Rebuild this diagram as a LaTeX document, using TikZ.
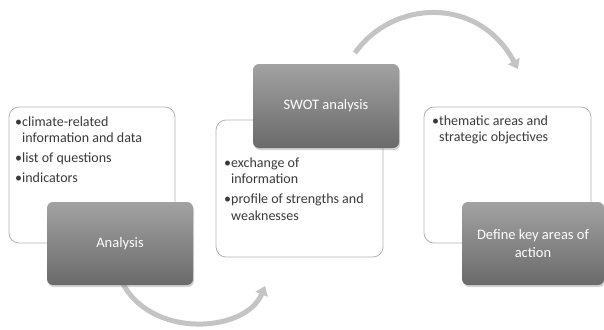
\documentclass[tikz,border=0pt]{standalone}
\usepackage{fontspec}
\setmainfont{Carlito}
\usetikzlibrary{shadows,arrows.meta,calc}
\definecolor{gtop}{HTML}{A2A2A2}
\definecolor{gbot}{HTML}{6A6A6A}
\definecolor{bordc}{HTML}{B4B4B4}
\definecolor{txt}{HTML}{3A3A3A}
\definecolor{arr}{HTML}{C4C4C4}
\newcommand{\bul}{\makebox[7pt][l]{•}}
\begin{document}
\begin{tikzpicture}[x=1pt,y=-1pt,
  whitebox/.style={draw=bordc, line width=0.8pt, fill=white, rounded corners=10pt, inner sep=0pt},
  greybox/.style={rounded corners=6pt, top color=gtop, bottom color=gbot, draw=none,
    text=white, font=\fontsize{14.5}{17.5}\selectfont, align=center,
    drop shadow={opacity=0.35, shadow xshift=1pt, shadow yshift=-2pt}, inner sep=0pt},
  listtxt/.style={text=txt, font=\fontsize{14}{16.5}\selectfont, inner sep=0pt, anchor=base west},
  flowarrow/.style={draw=arr, line width=5pt, -{Triangle[width=13pt,length=9pt]}}]
\useasboundingbox (0,0) rectangle (604,329);

% bottom arrow
\coordinate (b1) at (118,272);
\coordinate (b2) at (265,286);
\draw[flowarrow] (b1) .. controls (140,340) and (245,335) .. (b2);

% left group
\node[whitebox, minimum width=166pt, minimum height=136pt] (w1) at (92,175) {};
\node[listtxt] (t1) at (15,126) {\begin{tabular}[t]{@{}l@{}l@{}}
\bul & climate-related\\ & information and data\\[3.5pt]
\bul & list of questions\\[3.5pt]
\bul & indicators
\end{tabular}};
\node[greybox, minimum width=146pt, minimum height=83pt] (g1) at (120,243.5) {Analysis};

% middle group
\node[whitebox, minimum width=167pt, minimum height=137pt] (w2) at (299.5,188.5) {};
\node[listtxt] (t2) at (224,167) {\begin{tabular}[t]{@{}l@{}l@{}}
\bul & exchange of\\ & information\\[3.5pt]
\bul & profile of strengths and\\ & weaknesses
\end{tabular}};
\node[greybox, minimum width=146pt, minimum height=84pt] (g2) at (326,106) {SWOT analysis};

% top arrow
\coordinate (a1) at (355,53);
\coordinate (a2) at (518,69);
\draw[flowarrow] (a1) .. controls (392,0) and (478,-5) .. (a2);

% right group
\node[whitebox, minimum width=167pt, minimum height=136pt] (w3) at (507.5,175) {};
\node[listtxt] (t3) at (432,125) {\begin{tabular}[t]{@{}l@{}l@{}}
\bul & thematic areas and\\ & strategic objectives
\end{tabular}};
\node[greybox, minimum width=142pt, minimum height=83pt] (g3) at (533,243.5) {Define key areas of\\action};
\end{tikzpicture}
\end{document}
